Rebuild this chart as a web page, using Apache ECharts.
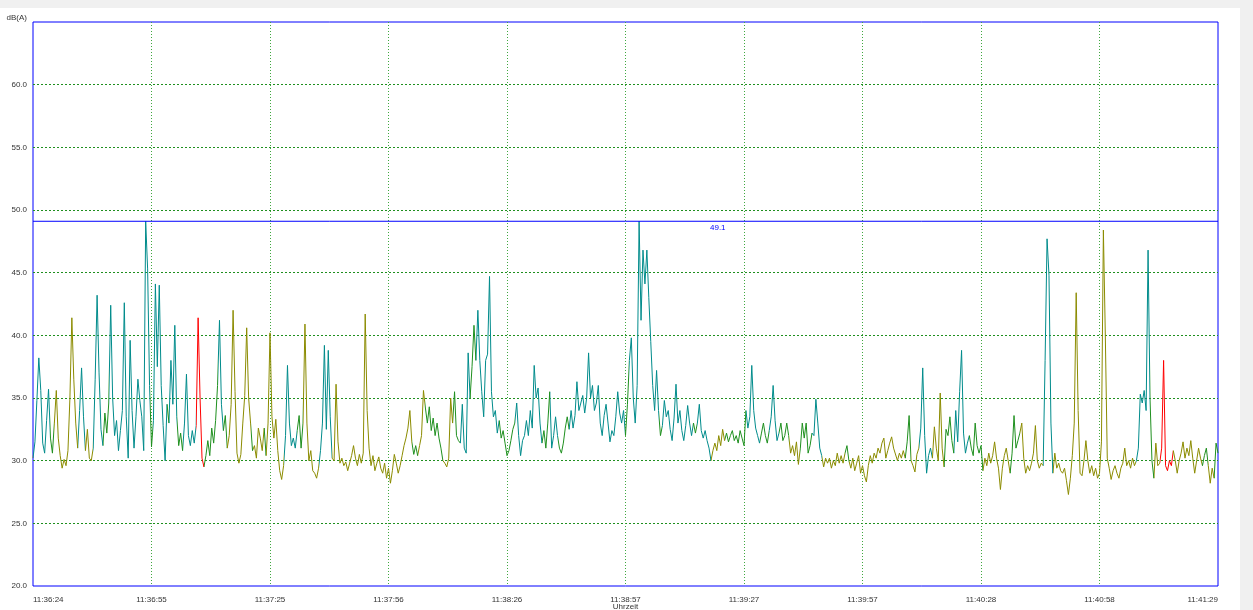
<!DOCTYPE html>
<html>
<head>
<meta charset="utf-8">
<title>Schallpegel dB(A)</title>
<script src="https://cdn.jsdelivr.net/npm/echarts@6/dist/echarts.min.js"></script>
<style>
  html, body { margin: 0; padding: 0; background: #f0f0f0; }
  #chart { position: absolute; left: 0; top: 8px; width: 1240px; height: 602px; background: #ffffff; }
</style>
</head>
<body>
<div id="chart"></div>
<script>
// Sample interval of the level recorder, seconds
const SAMPLE_STEP = 0.5;

// Time axis tick labels (start 11:36:24, one tick every 30.5 s)
const timeLabels = ['11:36:24', '11:36:55', '11:37:25', '11:37:56', '11:38:26', '11:38:57',
                    '11:39:27', '11:39:57', '11:40:28', '11:40:58', '11:41:29'];
const TIME_SPAN = 305;

// Level readings in dB(A), one per sample
const levels = [
  30.2, 31.5, 34.8, 38.2, 35.6, 31.4, 30.6, 33.2, 35.7, 31.8,
  30.6, 33.0, 35.6, 31.8, 30.4, 29.4, 30.1, 29.6, 30.8, 35.0,
  41.4, 36.5, 33.0, 31.0, 34.0, 37.4, 33.5, 30.8, 32.5, 30.2,
  30.0, 31.0, 36.5, 43.2, 37.0, 32.5, 31.2, 33.8, 32.2, 34.6,
  42.4, 35.0, 32.0, 33.2, 30.8, 32.4, 34.0, 42.6, 33.5, 30.2,
  39.6, 34.0, 31.0, 33.5, 36.5, 34.8, 33.5, 30.8, 49.1, 45.3,
  36.0, 31.1, 33.2, 44.1, 37.5, 44.0, 36.0, 32.8, 30.0, 34.5,
  33.0, 38.0, 34.5, 40.8, 33.5, 31.2, 32.2, 30.8, 33.0, 36.9,
  32.0, 31.2, 32.4, 31.4, 32.8, 41.4, 35.0, 30.2, 29.5, 30.4,
  31.6, 30.4, 32.6, 31.4, 33.2, 36.0, 41.2, 34.5, 32.4, 33.6,
  31.0, 32.0, 34.5, 42.0, 35.5, 30.6, 29.8, 30.5, 33.0, 35.2,
  40.6, 35.0, 33.0, 30.8, 31.2, 30.2, 32.6, 31.8, 30.8, 32.6,
  30.4, 33.0, 40.2, 33.5, 31.8, 33.3, 30.8, 29.2, 28.5, 29.6,
  32.0, 37.6, 33.0, 31.2, 31.8, 31.0, 32.4, 33.6, 31.0, 33.0,
  40.9, 33.0, 30.0, 30.8, 29.2, 29.0, 28.6, 29.4, 30.8, 33.0,
  39.2, 32.5, 38.8, 33.5, 30.2, 30.0, 36.1, 31.5, 29.8, 30.2,
  29.6, 29.9, 29.2, 29.8, 30.4, 31.2, 30.2, 29.6, 30.5, 29.8,
  30.6, 41.7, 34.0, 31.0, 29.6, 30.4, 29.2, 29.8, 30.3, 29.4,
  29.0, 29.8, 28.6, 29.4, 28.2, 29.2, 30.5, 29.8, 29.0, 29.6,
  30.4, 31.2, 31.8, 32.6, 34.0, 31.5, 30.5, 31.2, 30.4, 31.2,
  32.0, 35.6, 34.2, 33.0, 34.3, 32.4, 33.4, 32.0, 33.0, 31.8,
  31.0, 30.0, 29.8, 29.5, 30.2, 35.0, 33.0, 35.5, 32.0, 31.6,
  31.4, 34.5, 31.0, 30.6, 38.6, 35.0, 37.5, 40.8, 38.0, 42.0,
  38.0, 35.5, 33.5, 38.0, 38.5, 44.7, 35.5, 33.5, 34.0, 32.2,
  33.2, 31.8, 32.4, 31.4, 30.4, 30.8, 31.6, 32.5, 33.0, 34.6,
  32.0, 30.4, 31.6, 32.0, 33.2, 32.0, 34.0, 32.6, 37.6, 35.0,
  35.8, 33.0, 31.4, 32.4, 31.0, 33.0, 35.5, 31.0, 32.0, 33.5,
  32.0, 31.0, 30.6, 31.4, 32.6, 33.5, 32.5, 34.0, 32.6, 33.6,
  36.3, 34.0, 34.6, 35.2, 33.8, 35.0, 38.6, 35.0, 36.0, 34.0,
  34.6, 36.0, 33.0, 32.0, 33.6, 34.5, 33.0, 31.5, 32.4, 32.0,
  33.5, 35.5, 33.8, 33.0, 34.0, 32.0, 34.5, 38.0, 39.8, 35.0,
  33.0, 36.0, 49.1, 41.2, 46.8, 44.1, 46.8, 43.0, 39.5, 36.0,
  34.0, 37.2, 34.0, 32.0, 32.8, 34.8, 33.5, 34.0, 32.5, 31.6,
  33.4, 36.1, 33.0, 34.0, 32.4, 31.6, 32.8, 34.4, 33.0, 32.0,
  33.0, 32.2, 33.0, 34.5, 32.4, 31.8, 32.4, 31.6, 31.0, 30.0,
  30.8, 31.4, 30.8, 32.0, 31.2, 32.5, 31.6, 32.2, 31.5, 32.0,
  32.4, 31.6, 32.0, 31.4, 32.4, 31.8, 31.2, 34.0, 32.6, 33.5,
  37.6, 34.0, 32.6, 32.0, 31.4, 32.2, 33.0, 32.0, 31.4, 32.4,
  33.5, 36.0, 33.2, 31.6, 32.2, 33.0, 31.6, 32.0, 33.0, 32.0,
  30.6, 31.2, 30.4, 31.5, 29.7, 31.0, 33.0, 31.8, 33.0, 30.6,
  31.2, 32.2, 32.0, 34.9, 33.0, 31.0, 30.4, 29.5, 30.2, 29.8,
  30.2, 29.4, 30.0, 29.6, 30.6, 29.8, 30.4, 29.8, 30.6, 31.2,
  30.0, 29.4, 30.2, 29.2, 29.8, 30.4, 29.0, 29.6, 28.8, 28.3,
  29.6, 30.4, 29.8, 30.6, 30.2, 31.0, 30.6, 31.4, 31.8, 30.2,
  30.8, 31.4, 31.9, 31.0, 31.0, 30.0, 30.6, 30.2, 30.8, 30.2,
  31.5, 33.6, 30.0, 29.6, 29.1, 30.5, 31.0, 32.6, 37.4, 32.0,
  29.0, 30.4, 31.0, 30.2, 32.7, 31.0, 30.0, 35.4, 31.0, 29.5,
  32.5, 32.0, 33.5, 31.6, 30.6, 34.0, 31.5, 35.5, 38.8, 32.2,
  30.6, 31.4, 32.0, 31.0, 30.4, 33.0, 31.2, 30.6, 31.2, 29.2,
  30.2, 29.6, 30.6, 29.8, 30.4, 31.5, 30.2, 29.4, 27.7, 29.4,
  30.4, 31.0, 30.0, 29.0, 30.6, 33.6, 31.0, 31.6, 32.2, 33.0,
  30.2, 29.0, 29.6, 29.2, 29.8, 30.6, 32.8, 30.0, 29.4, 29.8,
  29.6, 38.0, 47.7, 44.8, 33.0, 29.0, 30.6, 29.4, 29.8, 29.2,
  29.0, 29.4, 28.4, 27.3, 28.6, 30.4, 33.0, 43.4, 34.0, 29.0,
  28.8, 30.0, 31.6, 30.0, 29.0, 29.6, 28.8, 29.4, 28.6, 29.0,
  31.5, 48.4, 40.0, 30.2, 29.4, 28.5, 29.2, 29.6, 29.0, 28.6,
  29.4, 29.8, 31.0, 29.6, 30.0, 29.4, 30.2, 29.6, 30.0, 31.0,
  35.3, 34.6, 35.6, 34.0, 46.8, 35.0, 30.0, 28.6, 31.4, 29.6,
  29.8, 31.0, 38.0, 29.6, 29.2, 30.0, 29.6, 30.8, 30.0, 29.0,
  30.0, 30.6, 31.5, 30.2, 31.0, 30.4, 31.6, 30.2, 29.0, 30.0,
  31.0, 30.2, 29.6, 30.4, 31.0, 29.6, 28.2, 29.4, 28.6, 31.4, 30.6
];

// Noise class of each stretch of samples: [first sample index, class]
const classRuns = [
  [0, 'T'], [9, 'G'], [11, 'O'], [23, 'T'], [27, 'O'], [31, 'T'], [36, 'G'], [39, 'T'],
  [60, 'G'], [62, 'T'], [69, 'G'], [70, 'T'], [74, 'G'], [77, 'T'], [84, 'R'], [88, 'G'],
  [95, 'T'], [98, 'G'], [100, 'O'], [112, 'G'], [113, 'O'], [119, 'G'], [120, 'O'], [129, 'T'],
  [136, 'G'], [139, 'O'], [147, 'T'], [154, 'O'], [195, 'G'], [198, 'O'], [202, 'G'], [211, 'O'],
  [216, 'G'], [220, 'T'], [225, 'G'], [228, 'T'], [240, 'G'], [248, 'T'], [262, 'G'], [266, 'T'],
  [270, 'G'], [276, 'T'], [305, 'G'], [307, 'T'], [322, 'G'], [324, 'T'], [340, 'G'], [342, 'T'],
  [349, 'O'], [356, 'G'], [367, 'T'], [374, 'G'], [379, 'T'], [384, 'G'], [389, 'O'], [395, 'G'],
  [401, 'T'], [406, 'O'], [418, 'G'], [420, 'O'], [449, 'G'], [452, 'O'], [456, 'T'], [463, 'O'],
  [469, 'G'], [474, 'T'], [482, 'G'], [489, 'O'], [503, 'G'], [508, 'O'], [520, 'T'], [525, 'O'],
  [568, 'T'], [575, 'G'], [577, 'O'], [580, 'R'], [587, 'O'], [602, 'G'], [605, 'O'], [608, 'G']
];

const classColors = { T: '#008b8b', O: '#8b8b00', G: '#1e8f1e', R: '#ff0000' };
const LIMIT_COLOR = '#0000ff';

// Build [time, level] pairs and colour pieces along the time axis
const seriesData = levels.map((v, i) => [i * SAMPLE_STEP, v]);
const pieces = classRuns.map((run, k) => {
  const piece = { gte: run[0] * SAMPLE_STEP, color: classColors[run[1]] };
  if (k + 1 < classRuns.length) piece.lt = classRuns[k + 1][0] * SAMPLE_STEP;
  return piece;
});
const maxLevel = Math.max(...levels);
// Horizontal maximum-level line spanning the whole time axis
const maxLineData = [[0, maxLevel], [TIME_SPAN, maxLevel]];
const tickStep = TIME_SPAN / (timeLabels.length - 1);

const chart = echarts.init(document.getElementById('chart'), null, { renderer: 'canvas' });
const labelFont = 'Liberation Sans, Arial, sans-serif';

chart.setOption({
  animation: false,
  backgroundColor: '#ffffff',
  grid: {
    left: 33, top: 14, right: 22, bottom: 24,
    outerBoundsMode: 'none',
    show: true, borderColor: LIMIT_COLOR, borderWidth: 1, backgroundColor: 'transparent'
  },
  xAxis: {
    type: 'value',
    min: 0, max: TIME_SPAN, interval: tickStep,
    name: 'Uhrzeit', nameLocation: 'middle', nameGap: 17, nameMoveOverlap: false,
    nameTextStyle: { fontSize: 8, color: '#333', fontFamily: labelFont },
    axisLine: { show: false },
    axisTick: { show: false },
    axisLabel: {
      fontSize: 8, color: '#333', fontFamily: labelFont, margin: 10,
      alignMinLabel: 'left', alignMaxLabel: 'right',
      formatter: v => timeLabels[Math.round(v / tickStep)] || ''
    },
    splitLine: {
      show: true, showMinLine: false, showMaxLine: false,
      lineStyle: { color: '#3fa83f', type: [1, 2], width: 1 }
    }
  },
  yAxis: {
    type: 'value',
    min: 20, max: 65, interval: 5,
    name: 'dB(A)', nameLocation: 'end', nameGap: 0,
    nameTextStyle: { fontSize: 8, color: '#333', fontFamily: labelFont, align: 'right', verticalAlign: 'bottom', padding: [0, 6, 0, 0] },
    axisLine: { show: false },
    axisTick: { show: false },
    axisLabel: {
      fontSize: 8, color: '#333', fontFamily: labelFont, margin: 6,
      formatter: v => (v >= 65 ? '' : v.toFixed(1))
    },
    splitLine: {
      show: true, showMinLine: false, showMaxLine: false,
      lineStyle: { color: '#1f8f1f', type: [2, 2], width: 1 }
    }
  },
  visualMap: {
    type: 'piecewise', show: false, dimension: 0, seriesIndex: 0,
    pieces: pieces, outOfRange: { color: classColors.O }
  },
  series: [
    {
      name: 'Pegel',
      type: 'line',
      data: seriesData,
      showSymbol: false,
      symbol: 'none',
      lineStyle: { width: 1 },
      emphasis: { disabled: true },
      z: 2
    },
    {
      name: 'Max',
      type: 'line',
      data: maxLineData,
      silent: true,
      showSymbol: false,
      symbol: 'none',
      color: LIMIT_COLOR,
      itemStyle: { color: LIMIT_COLOR },
      lineStyle: { color: LIMIT_COLOR, width: 1, type: 'solid' },
      emphasis: { disabled: true },
      z: 3,
      // value caption of the maximum line (the line itself is the series above)
      markLine: {
        silent: true,
        symbol: ['none', 'none'],
        lineStyle: { color: 'rgba(0,0,255,0)', width: 1 },
        label: {
          show: true,
          position: 'insideStartBottom', distance: [677, 3],
          color: LIMIT_COLOR, fontSize: 8, fontFamily: labelFont,
          formatter: p => Number(p.value).toFixed(1)
        },
        data: [{ yAxis: maxLevel }]
      }
    }
  ]
});
</script>
</body>
</html>
